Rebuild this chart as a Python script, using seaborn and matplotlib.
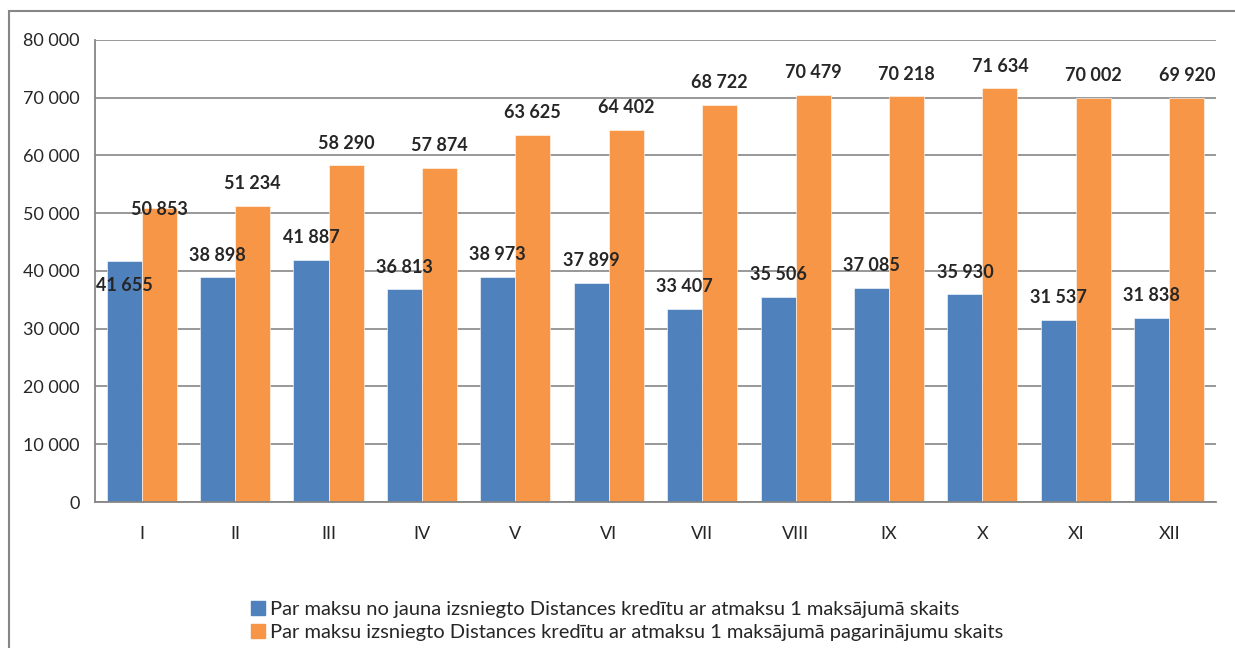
import matplotlib.pyplot as plt
import matplotlib.patches as mpatches
from matplotlib.ticker import FuncFormatter, FixedLocator
import pandas as pd
import seaborn as sns

# data
months = ["I", "II", "III", "IV", "V", "VI", "VII", "VIII", "IX", "X", "XI", "XII"]
new_loans = [41655, 38898, 41887, 36813, 38973, 37899, 33407, 35506, 37085, 35930, 31537, 31838]
extensions = [50853, 51234, 58290, 57874, 63625, 64402, 68722, 70479, 70218, 71634, 70002, 69920]
series_names = [
    "Par maksu no jauna izsniegto Distances kredītu ar atmaksu 1 maksājumā skaits",
    "Par maksu izsniegto Distances kredītu ar atmaksu 1 maksājumā pagarinājumu skaits",
]
colors = ["#4F81BD", "#F79646"]

df = pd.DataFrame({
    "month": months * 2,
    "series": [series_names[0]] * 12 + [series_names[1]] * 12,
    "value": new_loans + extensions,
})

sns.set_style("white")
plt.rcParams["font.family"] = ["Lato", "DejaVu Sans"]

fig = plt.figure(figsize=(12.35, 6.48), dpi=100)
ax = fig.add_axes([0.0769, 0.2253, 0.9077, 0.713])

sns.barplot(data=df, x="month", y="value", hue="series", order=months,
            hue_order=series_names, palette=colors, saturation=1, width=0.75,
            edgecolor="white", linewidth=0.4, ax=ax)

ax.set_ylim(0, 80000)
ax.set_xlim(-0.5, 11.5)
ax.yaxis.set_major_locator(FixedLocator(range(0, 80001, 10000)))
ax.yaxis.set_major_formatter(FuncFormatter(lambda v, p: f"{v:,.0f}".replace(",", " ")))
ax.grid(axis="y", color="#868686", linewidth=1.2)
ax.set_axisbelow(True)
for s in ["top", "right"]:
    ax.spines[s].set_visible(False)
for s in ["left", "bottom"]:
    ax.spines[s].set_color("#868686")
    ax.spines[s].set_linewidth(1.3)
ax.set_xlabel("")
ax.set_ylabel("")
ax.tick_params(axis="y", length=6, width=1.2, color="#868686", labelsize=13, pad=5)
ax.tick_params(axis="x", which="major", length=0, labelsize=13, pad=17)
ax.set_xticks([i - 0.5 for i in range(13)], minor=True)
ax.tick_params(axis="x", which="minor", length=7, width=1.2, color="#868686")

# value labels
offsets = [[-17] + [16] * 11, [-1] + [16] * 11]
for k, cont in enumerate(ax.containers):
    for j, bar in enumerate(cont):
        ax.annotate(f"{bar.get_height():,.0f}".replace(",", " "),
                    (bar.get_x() + bar.get_width() / 2, bar.get_height()),
                    xytext=(0, offsets[k][j]), textcoords="offset points",
                    ha="center", va="center", fontsize=13, fontweight="bold")

handles = [mpatches.Patch(color=c) for c in colors]
ax.legend_.remove()
fig.legend(handles, series_names, loc="center", bbox_to_anchor=(0.508, 0.042),
           frameon=False, fontsize=14.5, handlelength=0.7, handleheight=0.7,
           handletextpad=0.25, labelspacing=0.3)

# outer chart border
fig.patches.append(mpatches.Rectangle((9 / 1235, -0.1), 1.2, 1.1 - 11 / 648,
                                      transform=fig.transFigure, fill=False,
                                      edgecolor="#868686", linewidth=1.5))

fig.savefig("out.png", dpi=100)
